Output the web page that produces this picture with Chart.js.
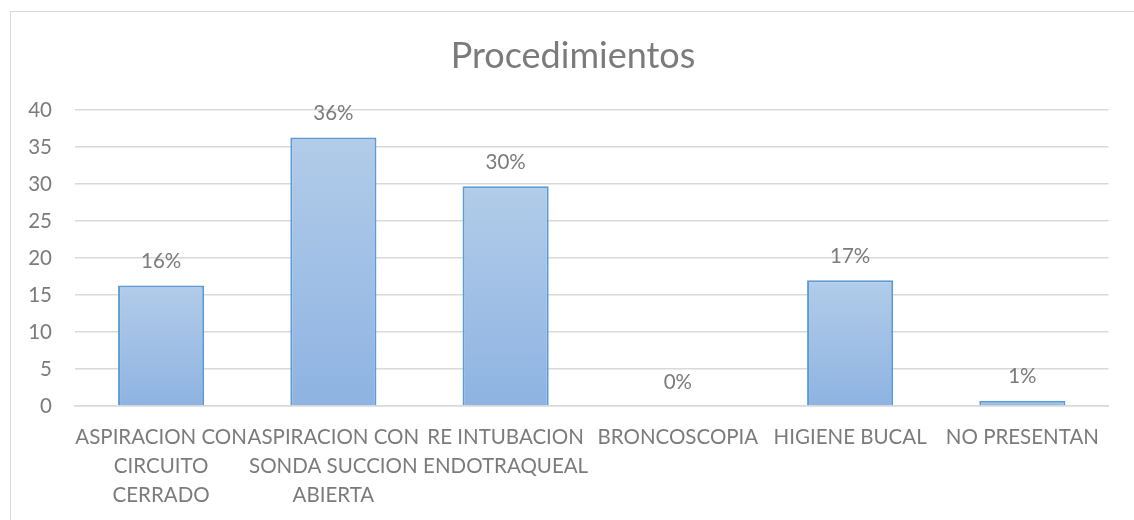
<!DOCTYPE html>
<html>
<head>
<meta charset="utf-8">
<script src="https://cdn.jsdelivr.net/npm/chart.js@4"></script>
<style>
  body { margin: 0; background: #fff; }
  #wrap { position: relative; width: 1134px; height: 520px; overflow: hidden; }
  #frame { position: absolute; left: 10px; top: 11px; width: 1200px; height: 600px; border: 1.5px solid #d9d9d9; }
  #c { position: absolute; left: 0; top: 0; }
</style>
</head>
<body>
<div id="wrap">
  <div id="frame"></div>
  <canvas id="c" width="1134" height="520"></canvas>
</div>
<script>
const categories = [
  ["ASPIRACION CON", "CIRCUITO", "CERRADO"],
  ["ASPIRACION CON", "SONDA SUCCION", "ABIERTA"],
  ["RE INTUBACION", "ENDOTRAQUEAL"],
  "BRONCOSCOPIA",
  "HIGIENE BUCAL",
  "NO PRESENTAN"
];
const values = [16.3, 36.3, 29.7, 0, 17.0, 0.7];
const percentLabels = ["16%", "36%", "30%", "0%", "17%", "1%"];

const textColor = "#7b7b7b";
const font = "Lato";

// per-bar vertical gradient, lighter at the top
function barFill(ctx) {
  const chart = ctx.chart;
  if (!chart.chartArea || !chart.scales.y) return "#a3c1e6";
  const y = chart.scales.y;
  const top = y.getPixelForValue(ctx.raw);
  const bottom = y.getPixelForValue(0);
  if (bottom - top < 1) return "#a3c1e6";
  const g = chart.ctx.createLinearGradient(0, top, 0, bottom);
  g.addColorStop(0, "#b2cce9");
  g.addColorStop(1, "#8eb3e2");
  return g;
}

const pctPlugin = {
  id: "pct",
  afterDatasetsDraw(chart) {
    const c = chart.ctx;
    const meta = chart.getDatasetMeta(0);
    c.save();
    c.fillStyle = textColor;
    c.font = "20.5px " + font;
    c.textAlign = "center";
    c.textBaseline = "middle";
    meta.data.forEach((bar, i) => {
      c.fillText(percentLabels[i], bar.x, bar.y - 24);
    });
    c.restore();
  }
};

new Chart(document.getElementById("c"), {
  type: "bar",
  data: {
    labels: categories,
    datasets: [{
      data: values,
      backgroundColor: barFill,
      borderColor: "#5b9bd5",
      borderWidth: 2,
      barPercentage: 0.5,
      categoryPercentage: 1
    }]
  },
  options: {
    responsive: false,
    animation: false,
    // left padding keeps the title centred on the frame, like the original
    layout: { padding: { left: 12, right: 0, top: 0, bottom: 0 } },
    plugins: {
      legend: { display: false },
      tooltip: { enabled: false },
      title: {
        display: true,
        text: "Procedimientos",
        color: textColor,
        font: { family: font, size: 36, weight: "normal" },
        padding: { top: 35, bottom: 32 }
      }
    },
    scales: {
      x: {
        grid: { display: false, drawTicks: false },
        border: { color: "#d9d9d9", width: 1.5 },
        ticks: {
          color: textColor,
          font: { family: font, size: 20.5, lineHeight: 1.42 },
          maxRotation: 0, minRotation: 0, autoSkip: false,
          padding: 17
        },
        afterFit(scale) { scale.height = 114; }
      },
      y: {
        min: 0, max: 40,
        ticks: {
          stepSize: 5,
          color: textColor,
          font: { family: font, size: 20.5 },
          padding: 23
        },
        grid: { color: "#d9d9d9", lineWidth: 1.5, drawTicks: false },
        border: { display: false },
        afterFit(scale) { scale.width = 63; }
      },
      // empty spacer on the right
      yr: {
        position: "right",
        min: 0, max: 40,
        ticks: { display: false },
        grid: { display: false, drawTicks: false },
        border: { display: false },
        afterFit(scale) { scale.width = 25.5; }
      }
    }
  },
  plugins: [pctPlugin]
});
</script>
</body>
</html>
